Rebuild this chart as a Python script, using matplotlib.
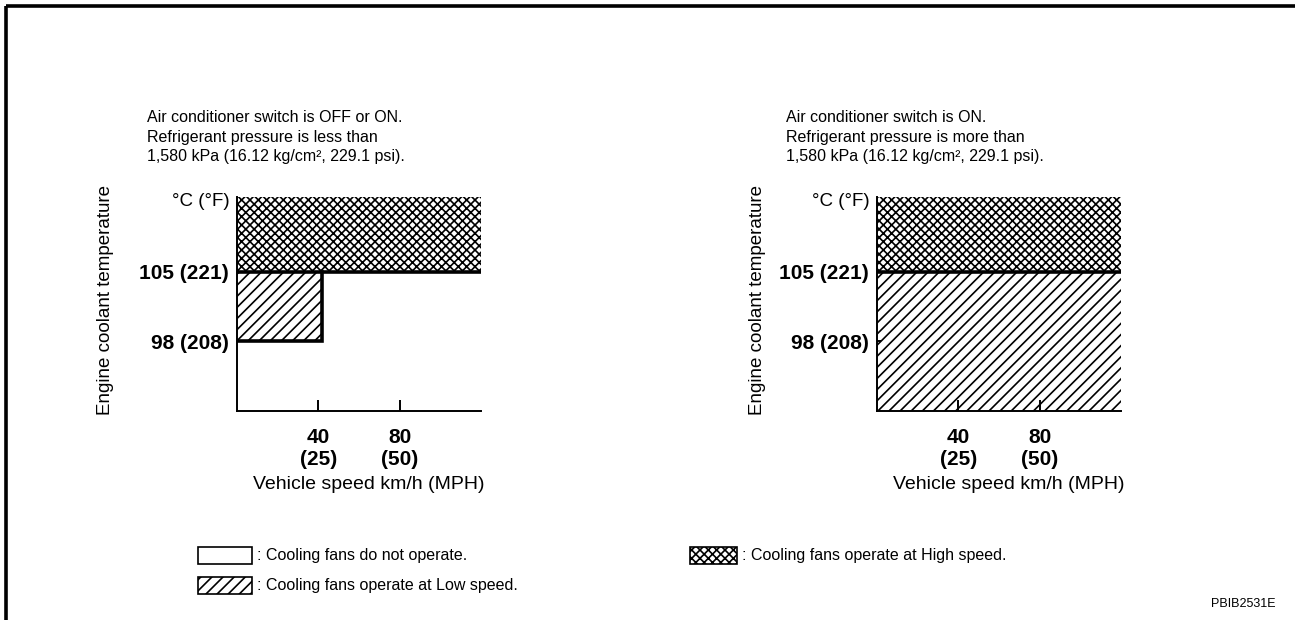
import matplotlib
matplotlib.use('Agg')
import matplotlib.pyplot as plt
from matplotlib.patches import Rectangle
from matplotlib.lines import Line2D

plt.rcParams['font.family'] = ['Liberation Sans', 'DejaVu Sans']
plt.rcParams['hatch.linewidth'] = 1.2

W, H, DPI = 1295, 620, 100

# fan control data (km/h, deg C)
speed_range = [0, 120]
temp_range = [91, 112.5]
temp_low_on = 98
temp_high_on = 105
speed_ticks = [40, 80]
speed_tick_labels = ['40\n(25)', '80\n(50)']
temp_ticks = [98, 105]
temp_tick_labels = ['98 (208)', '105 (221)']

# low speed fan region limit for each chart (left: only below 42 km/h)
low_fan_speed_limit = [42, 120]
low_fan_temp_start = [98, 91]

headers = [
    'Air conditioner switch is OFF or ON.\nRefrigerant pressure is less than\n'
    '1,580 kPa (16.12 kg/cm\u00b2, 229.1 psi).',
    'Air conditioner switch is ON.\nRefrigerant pressure is more than\n'
    '1,580 kPa (16.12 kg/cm\u00b2, 229.1 psi).',
]

legend_items = [
    ('', ': Cooling fans do not operate.'),
    ('///', ': Cooling fans operate at Low speed.'),
    ('xxxx', ': Cooling fans operate at High speed.'),
]

HIGH_HATCH = 'xxxx'
LOW_HATCH = '///'


def fx(px):
    return px / W


def fy(py):
    return 1 - py / H


fig = plt.figure(figsize=(W / DPI, H / DPI), dpi=DPI)

# page frame
fig.add_artist(Line2D([fx(6), fx(1295)], [fy(6), fy(6)], color='black', lw=2.6,
                      solid_capstyle='butt'))
fig.add_artist(Line2D([fx(6), fx(6)], [fy(6), fy(620)], color='black', lw=2.6,
                      solid_capstyle='butt'))

ax_left_px = [237, 877]
header_x_px = [147, 786]
ylabel_x_px = [105, 757]

for i in range(2):
    ax = fig.add_axes([fx(ax_left_px[i]), fy(411), 244 / W, (411 - 197) / H])
    ax.set_xlim(speed_range)
    ax.set_ylim(temp_range)

    # high speed region
    ax.fill_between(speed_range, temp_high_on, temp_range[1], facecolor='white',
                    edgecolor='black', hatch=HIGH_HATCH, linewidth=0)
    # low speed region
    xs = [speed_range[0], low_fan_speed_limit[i]]
    ax.fill_between(xs, low_fan_temp_start[i], temp_high_on, facecolor='white',
                    edgecolor='black', hatch=LOW_HATCH, linewidth=0)

    ax.plot(speed_range, [temp_high_on, temp_high_on], color='black', lw=2.6,
            solid_capstyle='butt')
    if low_fan_speed_limit[i] < speed_range[1]:
        ax.plot([speed_range[0], low_fan_speed_limit[i], low_fan_speed_limit[i]],
                [low_fan_temp_start[i], low_fan_temp_start[i], temp_high_on],
                color='black', lw=2.6, solid_joinstyle='miter')

    for s in ['top', 'right']:
        ax.spines[s].set_visible(False)
    for s in ['left', 'bottom']:
        ax.spines[s].set_linewidth(1.4)

    ax.set_xticks(speed_ticks)
    ax.set_xticklabels(speed_tick_labels, fontsize=15, fontweight='bold',
                       linespacing=1.2)
    ax.set_yticks(temp_ticks)
    ax.set_yticklabels(temp_tick_labels, fontsize=15, fontweight='bold')
    ax.tick_params(axis='x', direction='in', length=8, width=1.4, pad=12)
    ax.tick_params(axis='y', direction='in', length=3, width=1.4, pad=6)

    ax.text(-0.03, 0.98, '\u00b0C (\u00b0F)', transform=ax.transAxes, ha='right',
            va='center', fontsize=13.5)
    ax.text(0.54, -0.345, 'Vehicle speed km/h (MPH)', transform=ax.transAxes,
            ha='center', va='center', fontsize=14)

    fig.text(fx(ylabel_x_px[i]), fy(300), 'Engine coolant temperature', rotation=90,
             ha='center', va='center', fontsize=13.5)
    fig.text(fx(header_x_px[i]), fy(110), headers[i], ha='left', va='top',
             fontsize=11.5, linespacing=1.38)

# legend
legend_pos = [(198, 547), (198, 577), (690, 547)]
for (hatch, label), (x0, y0) in zip(legend_items, legend_pos):
    w = 54 if x0 < 600 else 47
    fig.add_artist(Rectangle((fx(x0), fy(y0 + 17)), w / W, 17 / H,
                             transform=fig.transFigure, facecolor='white',
                             edgecolor='black', hatch=hatch or None, lw=1.2))
    fig.text(fx(x0 + w + 5), fy(y0 + 8.5), label, ha='left', va='center',
             fontsize=11.5)

fig.text(fx(1275), fy(604), 'PBIB2531E', ha='right', va='center', fontsize=9)

fig.savefig('out.png', dpi=DPI)
